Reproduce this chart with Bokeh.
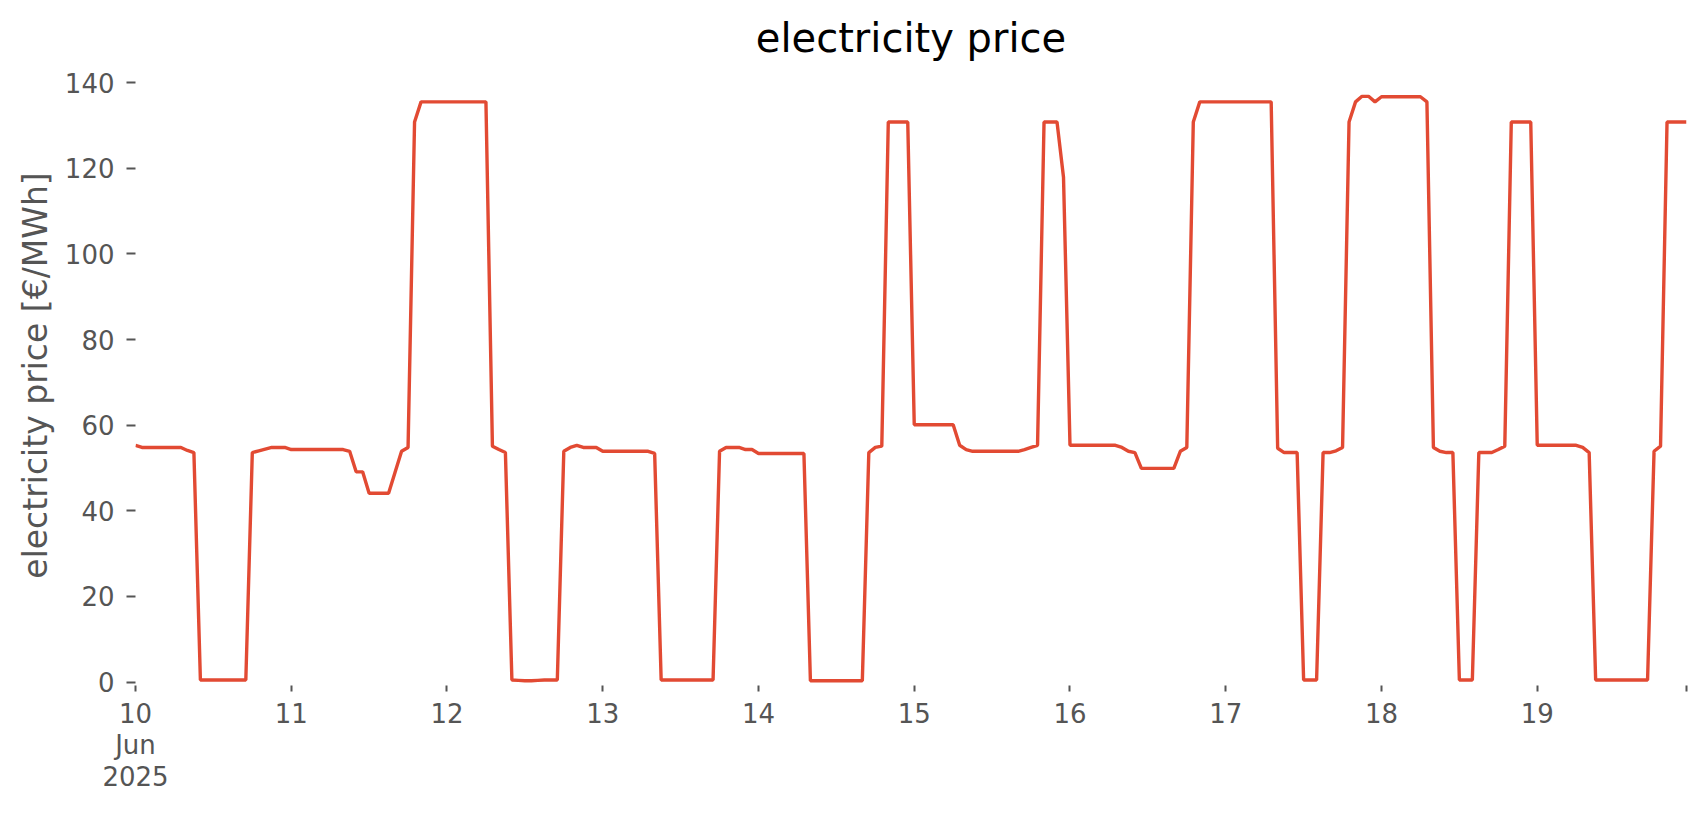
import pandas as pd
from bokeh.plotting import figure
from bokeh.models import Range1d, FixedTicker
from bokeh.embed import file_html
from bokeh.resources import INLINE

# hourly electricity price [EUR/MWh], 10 Jun 2025 00:00 .. 19 Jun 2025 23:00
start = "2025-06-10 00:00"
jun10 = [55.3, 54.8, 54.8, 54.8, 54.8, 54.8, 54.8, 54.8, 54.1, 53.6, 0.5, 0.5,
         0.5, 0.5, 0.5, 0.5, 0.5, 0.5, 53.6, 54.0, 54.4, 54.8, 54.8, 54.8]
jun11 = [54.3, 54.3, 54.3, 54.3, 54.3, 54.3, 54.3, 54.3, 54.3, 53.9, 49.1, 49.1,
         44.1, 44.1, 44.1, 44.1, 49.0, 53.9, 54.8, 130.8, 135.5, 135.5, 135.5, 135.5]
jun12 = [135.5, 135.5, 135.5, 135.5, 135.5, 135.5, 135.5, 55.1, 54.3, 53.6, 0.5, 0.4,
         0.3, 0.3, 0.4, 0.5, 0.5, 0.5, 53.9, 54.8, 55.3, 54.8, 54.8, 54.8]
jun13 = [53.9, 53.9, 53.9, 53.9, 53.9, 53.9, 53.9, 53.9, 53.4, 0.5, 0.5, 0.5,
         0.5, 0.5, 0.5, 0.5, 0.5, 0.5, 53.9, 54.8, 54.8, 54.8, 54.3, 54.3]
jun14 = [53.4, 53.4, 53.4, 53.4, 53.4, 53.4, 53.4, 53.4, 0.3, 0.3, 0.3, 0.3,
         0.3, 0.3, 0.3, 0.3, 0.3, 53.6, 54.8, 55.1, 130.8, 130.8, 130.8, 130.8]
jun15 = [60.1, 60.1, 60.1, 60.1, 60.1, 60.1, 60.1, 55.3, 54.3, 53.9, 53.9, 53.9,
         53.9, 53.9, 53.9, 53.9, 53.9, 54.3, 54.8, 55.3, 130.8, 130.8, 130.8, 117.9]
jun16 = [55.3, 55.3, 55.3, 55.3, 55.3, 55.3, 55.3, 55.3, 54.8, 53.9, 53.6, 49.9,
         49.9, 49.9, 49.9, 49.9, 49.9, 53.9, 54.8, 130.8, 135.5, 135.5, 135.5, 135.5]
jun17 = [135.5, 135.5, 135.5, 135.5, 135.5, 135.5, 135.5, 135.5, 54.6, 53.6, 53.6, 53.6,
         0.5, 0.5, 0.5, 53.6, 53.6, 54.0, 54.8, 130.8, 135.5, 136.8, 136.8, 135.5]
jun18 = [136.7, 136.7, 136.7, 136.7, 136.7, 136.7, 136.7, 135.5, 54.8, 53.9, 53.6, 53.6,
         0.5, 0.5, 0.5, 53.6, 53.6, 53.6, 54.3, 55.1, 130.8, 130.8, 130.8, 130.8]
jun19 = [55.3, 55.3, 55.3, 55.3, 55.3, 55.3, 55.3, 54.8, 53.6, 0.5, 0.5, 0.5,
         0.5, 0.5, 0.5, 0.5, 0.5, 0.5, 53.9, 55.1, 130.8, 130.8, 130.8, 130.8]

price = jun10 + jun11 + jun12 + jun13 + jun14 + jun15 + jun16 + jun17 + jun18 + jun19
times = pd.date_range(start, periods=len(price), freq="h")

day_ticks = pd.date_range("2025-06-10", "2025-06-19", freq="D")
day_labels = ["10\nJun\n2025", "11", "12", "13", "14", "15", "16", "17", "18", "19"]
y_ticks = [0, 20, 40, 60, 80, 100, 120, 140]

GRAY = "#555555"
FONT = "DejaVu Sans"

def ms(t):
    return float(pd.Timestamp(t).value // 10**6)

x0 = ms(times[0])
x1 = ms(times[-1])

p = figure(width=1700, height=812, x_axis_type="datetime",
           output_backend="svg", toolbar_location=None,
           x_range=Range1d(x0, x1), y_range=Range1d(-0.8, 144),
           min_border_left=135, min_border_right=14,
           min_border_top=65, min_border_bottom=127)

p.line(times, price, line_color="#E24A33", line_width=3.4)

p.background_fill_color = "white"
p.border_fill_color = "white"
p.outline_line_color = None
p.xgrid.grid_line_color = None
p.ygrid.grid_line_color = None

p.title.text = "electricity price"
p.title.text_font = FONT
p.title.text_font_size = "40px"
p.title.text_font_style = "normal"
p.title.text_color = "black"
p.title.align = "center"
p.title.standoff = 9

tick_vals = [ms(t) for t in day_ticks] + [x1]
xa = p.xaxis[0]
xa.ticker = FixedTicker(ticks=tick_vals, minor_ticks=[])
overrides = {v: lab for v, lab in zip(tick_vals, day_labels)}
overrides[x1] = ""
xa.major_label_overrides = overrides
xa.axis_line_color = None
xa.major_tick_line_color = GRAY
xa.major_tick_line_width = 2
xa.major_tick_out = 6
xa.major_tick_in = 0
xa.minor_tick_line_color = None
xa.major_label_text_font = FONT
xa.major_label_text_font_size = "26px"
xa.major_label_text_color = GRAY
xa.major_label_standoff = 7
xa.major_label_text_line_height = 1.06

ya = p.yaxis[0]
ya.ticker = FixedTicker(ticks=y_ticks, minor_ticks=[])
ya.axis_line_color = None
ya.major_tick_line_color = GRAY
ya.major_tick_line_width = 2
ya.major_tick_out = 9
ya.major_tick_in = 0
ya.minor_tick_line_color = None
ya.major_label_text_font = FONT
ya.major_label_text_font_size = "26px"
ya.major_label_text_color = GRAY
ya.major_label_standoff = 12
ya.axis_label = "electricity price [€/MWh]"
ya.axis_label_text_font = FONT
ya.axis_label_text_font_size = "33px"
ya.axis_label_text_font_style = "normal"
ya.axis_label_text_color = GRAY
ya.axis_label_standoff = 7

open("out.html", "w").write(file_html(p, INLINE))
